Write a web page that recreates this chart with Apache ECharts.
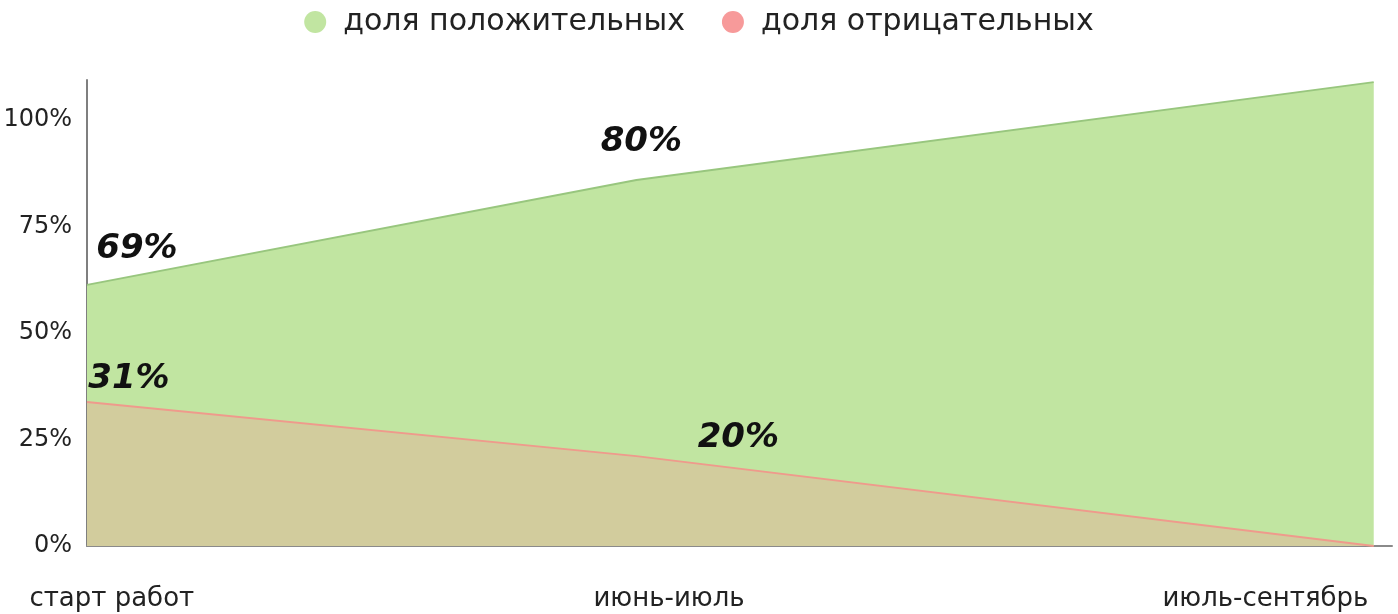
<!DOCTYPE html>
<html>
<head>
<meta charset="utf-8">
<script src="https://cdn.jsdelivr.net/npm/echarts@6/dist/echarts.min.js"></script>
<style>html,body{margin:0;padding:0;background:#fff;}#c{width:1398px;height:614px;}</style>
</head>
<body>
<div id="c"></div>
<script>
// categories and their positions along the time axis (0..100)
var categories = ['старт работ', 'июнь-июль', 'июль-сентябрь'];
var pointPos = [0, 42.1, 98.6];
var labelPos = [1.9, 44.6, 90.3];
// series values (as plotted) and their printed labels
var seriesNames = ['доля положительных', 'доля отрицательных'];
var positiveValues = [61.3, 85.9, 108.9];
var negativeValues = [33.8, 21.1, 0];
var positiveLabels = ['69%', '80%', ''];
var negativeLabels = ['31%', '20%', ''];
// y tick labels
var yTicks = [0, 25, 50, 75, 100];

var FONT = 'DejaVu Sans';
var labelStyle = { fontFamily: FONT, fontSize: 34, fontWeight: 'bold', fontStyle: 'italic', color: '#111' };
var posOffsets = [[50, -14], [5, -16], [0, 0]];
var negOffsets = [[42, -1], [102, 4], [0, 0]];

function build(values, labels, offsets) {
  return values.map(function (v, i) {
    var item = { value: [pointPos[i], v] };
    if (labels[i]) {
      item.label = Object.assign({ show: true, position: 'top', offset: offsets[i], formatter: labels[i] }, labelStyle);
    }
    return item;
  });
}

var chart = echarts.init(document.getElementById('c'));
chart.setOption({
  animation: false,
  legend: {
    top: 2, left: 'center',
    itemWidth: 22, itemHeight: 22, itemGap: 37,
    icon: 'circle',
    textStyle: { fontFamily: FONT, fontSize: 30, color: '#222', padding: [0, 0, 0, 12] },
    data: seriesNames
  },
  grid: { left: 87, right: 6, top: 80, bottom: 68 },
  xAxis: {
    type: 'value', min: 0, max: 100,
    axisLine: { show: true, lineStyle: { color: '#8a8a8a', width: 2 } },
    axisTick: { show: false },
    splitLine: { show: false },
    axisLabel: {
      customValues: labelPos,
      margin: 40,
      fontFamily: FONT, fontSize: 26, color: '#222',
      formatter: function (v) { var i = labelPos.indexOf(v); return i >= 0 ? categories[i] : ''; }
    }
  },
  yAxis: {
    type: 'value', min: 0, max: 109.4,
    axisLine: { show: true, lineStyle: { color: '#7f7f7f', width: 2 } },
    axisTick: { show: false },
    splitLine: { show: false },
    axisLabel: {
      customValues: yTicks,
      margin: 15,
      padding: [8, 0, 0, 0],
      fontFamily: FONT, fontSize: 24, color: '#222',
      formatter: function (v) { return v + '%'; }
    }
  },
  series: [
    {
      name: seriesNames[0], type: 'line',
      symbol: 'circle', symbolSize: 0.01,
      itemStyle: { color: '#c1e5a1' },
      lineStyle: { color: '#98c67e', width: 2 },
      areaStyle: { color: '#c1e5a1', opacity: 1 },
      data: build(positiveValues, positiveLabels, posOffsets),
      z: 2
    },
    {
      name: seriesNames[1], type: 'line',
      symbol: 'circle', symbolSize: 0.01,
      itemStyle: { color: '#f79a9a' },
      lineStyle: { color: '#ef9a8c', width: 2 },
      areaStyle: { color: 'rgba(240,160,150,0.36)', opacity: 1 },
      data: build(negativeValues, negativeLabels, negOffsets),
      z: 3
    }
  ]
});
</script>
</body>
</html>
